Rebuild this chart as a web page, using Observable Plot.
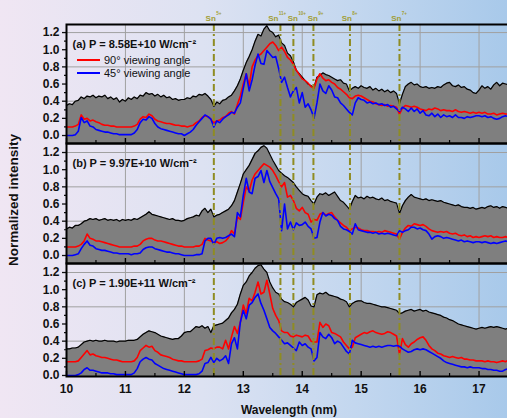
<!DOCTYPE html>
<html>
<head>
<meta charset="utf-8">
<script src="https://cdn.jsdelivr.net/npm/d3@7"></script>
<script src="https://cdn.jsdelivr.net/npm/@observablehq/plot@0.6"></script>
<style>
  html, body { margin: 0; padding: 0; }
  #wrap { position: relative; width: 507px; height: 418px; overflow: hidden;
    background: linear-gradient(to right, #f0e6f3 0%, #dde2f2 40%, #c3d7ef 70%, #a8c9ea 100%);
    font-family: "Liberation Sans", Arial, sans-serif; }
  #wrap svg { overflow: visible; max-width: none; display: block; }
  .pnl { position: absolute; left: 0; }
  #ylabel { position: absolute; left: 13px; top: 200px; transform: translate(-50%, -50%) rotate(-90deg);
    font-weight: bold; font-size: 13.5px; white-space: nowrap; color: #111; }
  #xlabel { position: absolute; left: 289px; top: 410px; transform: translate(-50%, -50%);
    font-weight: bold; font-size: 12px; white-space: nowrap; color: #111; }
  #legend { position: absolute; left: 77px; top: 53px; font-size: 11px; color: #111; }
  #legend .row { height: 13px; display: flex; align-items: center; }
  #legend .sw { width: 23px; height: 2px; margin-right: 4px; }
</style>
</head>
<body>
<div id="wrap">
  <div id="p1" class="pnl" style="top:0px"></div>
  <div id="p2" class="pnl" style="top:143px"></div>
  <div id="p3" class="pnl" style="top:263px"></div>
  <div id="legend"></div>
  <div id="ylabel">Normalized intensity</div>
  <div id="xlabel">Wavelength (nm)</div>
</div>
<script>
// ---- data ----
const WL = [10.00,10.05,10.10,10.15,10.20,10.25,10.30,10.35,10.40,10.45,
10.50,10.55,10.60,10.65,10.70,10.75,10.80,10.85,10.90,10.95,
11.00,11.05,11.10,11.15,11.20,11.25,11.30,11.35,11.40,11.45,
11.50,11.55,11.60,11.65,11.70,11.75,11.80,11.85,11.90,11.95,
12.00,12.05,12.10,12.15,12.20,12.25,12.30,12.35,12.40,12.45,
12.50,12.55,12.60,12.65,12.70,12.75,12.80,12.85,12.90,12.95,
13.00,13.05,13.10,13.15,13.20,13.25,13.30,13.35,13.40,13.45,
13.50,13.55,13.60,13.65,13.70,13.75,13.80,13.85,13.90,13.95,
14.00,14.05,14.10,14.15,14.20,14.25,14.30,14.35,14.40,14.45,
14.50,14.55,14.60,14.65,14.70,14.75,14.80,14.85,14.90,14.95,
15.00,15.05,15.10,15.15,15.20,15.25,15.30,15.35,15.40,15.45,
15.50,15.55,15.60,15.65,15.70,15.75,15.80,15.85,15.90,15.95,
16.00,16.05,16.10,16.15,16.20,16.25,16.30,16.35,16.40,16.45,
16.50,16.55,16.60,16.65,16.70,16.75,16.80,16.85,16.90,16.95,
17.00,17.05,17.10,17.15,17.20,17.25,17.30,17.35,17.40,17.45,
17.50];

// panel (a)
const A_ENV = [0.35,0.37,0.36,0.40,0.41,0.45,0.43,0.46,0.45,0.47,
0.44,0.46,0.45,0.47,0.43,0.45,0.42,0.44,0.39,0.42,
0.40,0.44,0.42,0.45,0.43,0.47,0.46,0.50,0.48,0.49,
0.46,0.48,0.45,0.47,0.44,0.45,0.42,0.43,0.41,0.42,
0.42,0.44,0.43,0.46,0.45,0.48,0.47,0.49,0.46,0.42,
0.34,0.39,0.37,0.41,0.42,0.45,0.47,0.52,0.58,0.66,
0.76,0.85,0.92,1.00,1.10,1.18,1.16,1.24,1.28,1.22,
1.20,1.15,1.17,1.08,1.05,0.96,0.93,0.86,0.76,0.72,
0.68,0.64,0.60,0.58,0.56,0.68,0.70,0.73,0.71,0.70,
0.68,0.66,0.64,0.65,0.61,0.60,0.52,0.55,0.57,0.55,
0.58,0.56,0.55,0.57,0.53,0.55,0.52,0.54,0.51,0.53,
0.50,0.52,0.49,0.37,0.48,0.57,0.60,0.62,0.59,0.60,
0.57,0.56,0.57,0.55,0.56,0.55,0.57,0.56,0.59,0.61,
0.62,0.58,0.57,0.59,0.56,0.57,0.54,0.53,0.50,0.49,
0.53,0.58,0.55,0.57,0.54,0.59,0.62,0.58,0.61,0.60,
0.59];
const A_RED = [0.10,0.10,0.10,0.11,0.13,0.24,0.19,0.20,0.17,0.18,
0.16,0.15,0.13,0.12,0.12,0.11,0.11,0.10,0.10,0.10,
0.10,0.10,0.10,0.11,0.13,0.19,0.22,0.21,0.25,0.23,
0.19,0.17,0.16,0.15,0.14,0.14,0.13,0.12,0.12,0.11,
0.11,0.10,0.11,0.12,0.15,0.17,0.21,0.23,0.22,0.19,
0.15,0.17,0.18,0.21,0.22,0.26,0.28,0.25,0.36,0.46,
0.60,0.72,0.58,0.80,0.88,0.93,0.95,0.99,1.03,1.07,
1.09,1.05,0.99,1.03,0.98,0.91,0.88,0.83,0.76,0.71,
0.66,0.64,0.61,0.57,0.55,0.66,0.72,0.67,0.64,0.65,
0.62,0.60,0.56,0.54,0.51,0.48,0.44,0.43,0.46,0.47,
0.46,0.44,0.42,0.40,0.39,0.37,0.36,0.35,0.36,0.34,
0.35,0.34,0.33,0.25,0.32,0.35,0.34,0.33,0.34,0.33,
0.31,0.30,0.29,0.31,0.30,0.32,0.31,0.29,0.30,0.29,
0.29,0.28,0.30,0.28,0.27,0.28,0.27,0.26,0.27,0.26,
0.27,0.26,0.27,0.25,0.25,0.26,0.24,0.25,0.26,0.25,
0.25];
const A_BLUE = [0.00,0.00,0.00,0.01,0.05,0.21,0.15,0.17,0.11,0.10,
0.07,0.06,0.05,0.04,0.04,0.03,0.02,0.02,0.01,0.01,
0.01,0.01,0.01,0.03,0.07,0.15,0.19,0.18,0.22,0.20,
0.14,0.10,0.08,0.07,0.06,0.05,0.04,0.03,0.02,0.02,
0.00,0.02,0.04,0.07,0.12,0.16,0.20,0.24,0.22,0.19,
0.10,0.17,0.15,0.19,0.22,0.24,0.27,0.26,0.33,0.38,
0.55,0.72,0.52,0.65,0.82,0.95,0.84,0.83,0.99,0.95,
0.91,0.92,0.78,0.62,0.68,0.56,0.45,0.52,0.56,0.38,
0.50,0.33,0.37,0.30,0.20,0.38,0.60,0.52,0.49,0.58,
0.53,0.45,0.44,0.38,0.35,0.31,0.27,0.24,0.38,0.44,
0.42,0.41,0.38,0.39,0.37,0.38,0.36,0.37,0.35,0.36,
0.33,0.34,0.31,0.28,0.33,0.31,0.28,0.32,0.28,0.31,
0.26,0.29,0.24,0.23,0.26,0.22,0.25,0.21,0.24,0.22,
0.23,0.21,0.24,0.21,0.21,0.20,0.22,0.21,0.22,0.23,
0.23,0.22,0.23,0.21,0.22,0.20,0.19,0.20,0.22,0.23,
0.22];

// panel (b)
const B_ENV = [0.31,0.33,0.32,0.35,0.35,0.37,0.40,0.41,0.43,0.42,
0.43,0.41,0.42,0.43,0.41,0.42,0.41,0.42,0.40,0.42,
0.41,0.42,0.41,0.43,0.42,0.44,0.46,0.48,0.51,0.48,
0.47,0.46,0.45,0.44,0.43,0.42,0.43,0.41,0.41,0.40,
0.41,0.43,0.44,0.45,0.47,0.46,0.52,0.55,0.50,0.54,
0.45,0.47,0.48,0.50,0.52,0.54,0.58,0.64,0.74,0.84,
0.95,1.00,1.05,1.12,1.19,1.22,1.26,1.28,1.25,1.18,
1.11,1.05,0.99,0.96,0.93,0.91,0.88,0.85,0.80,0.76,
0.72,0.70,0.69,0.64,0.60,0.68,0.72,0.71,0.73,0.70,
0.72,0.74,0.69,0.64,0.62,0.58,0.54,0.63,0.70,0.67,
0.68,0.66,0.69,0.67,0.68,0.66,0.65,0.67,0.64,0.65,
0.63,0.62,0.61,0.49,0.58,0.64,0.68,0.71,0.68,0.67,
0.66,0.65,0.66,0.64,0.65,0.64,0.63,0.64,0.62,0.61,
0.60,0.59,0.58,0.59,0.57,0.56,0.56,0.55,0.56,0.54,
0.55,0.56,0.55,0.57,0.58,0.56,0.57,0.55,0.57,0.56,
0.55];
const B_RED = [0.10,0.10,0.10,0.10,0.11,0.13,0.17,0.25,0.20,0.19,
0.17,0.17,0.16,0.15,0.14,0.13,0.12,0.11,0.10,0.10,
0.10,0.10,0.10,0.11,0.11,0.13,0.17,0.19,0.20,0.20,
0.18,0.17,0.17,0.16,0.15,0.14,0.13,0.12,0.11,0.11,
0.10,0.10,0.10,0.10,0.11,0.11,0.13,0.20,0.18,0.17,
0.15,0.16,0.14,0.15,0.17,0.21,0.29,0.25,0.45,0.42,
0.62,0.80,0.75,0.88,0.95,0.99,1.03,1.07,1.05,1.03,
0.99,0.93,0.86,0.80,0.85,0.68,0.70,0.64,0.55,0.52,
0.56,0.50,0.48,0.39,0.42,0.41,0.48,0.50,0.47,0.49,
0.50,0.45,0.41,0.38,0.35,0.33,0.29,0.31,0.33,0.32,
0.30,0.29,0.29,0.28,0.28,0.27,0.28,0.27,0.29,0.28,
0.27,0.26,0.25,0.19,0.27,0.32,0.35,0.34,0.37,0.36,
0.35,0.36,0.34,0.31,0.29,0.28,0.27,0.28,0.27,0.28,
0.26,0.25,0.26,0.24,0.23,0.24,0.22,0.23,0.21,0.22,
0.21,0.22,0.23,0.22,0.23,0.21,0.22,0.21,0.21,0.22,
0.21];
const B_BLUE = [0.00,0.00,0.00,0.01,0.02,0.08,0.13,0.17,0.12,0.11,
0.08,0.07,0.06,0.06,0.05,0.04,0.03,0.03,0.02,0.02,
0.02,0.02,0.01,0.02,0.02,0.03,0.07,0.09,0.10,0.10,
0.08,0.07,0.06,0.05,0.04,0.04,0.03,0.02,0.02,0.01,
0.00,0.00,0.00,0.00,0.01,0.01,0.02,0.17,0.20,0.20,
0.13,0.20,0.21,0.20,0.21,0.23,0.25,0.22,0.50,0.45,
0.70,0.90,0.74,0.72,0.90,0.92,0.99,0.85,0.99,0.86,
0.79,0.72,0.66,0.29,0.60,0.31,0.39,0.30,0.38,0.35,
0.36,0.39,0.34,0.31,0.20,0.21,0.39,0.50,0.46,0.48,
0.47,0.43,0.41,0.34,0.31,0.30,0.28,0.25,0.37,0.30,
0.29,0.28,0.27,0.27,0.26,0.27,0.25,0.26,0.25,0.26,
0.25,0.24,0.23,0.29,0.27,0.29,0.30,0.33,0.33,0.31,
0.32,0.30,0.29,0.25,0.19,0.22,0.23,0.22,0.20,0.21,
0.20,0.19,0.18,0.17,0.18,0.16,0.17,0.16,0.15,0.16,
0.16,0.15,0.16,0.15,0.14,0.15,0.14,0.15,0.16,0.17,
0.16];

// panel (c)
const C_ENV = [0.31,0.31,0.32,0.32,0.33,0.36,0.39,0.40,0.41,0.40,
0.41,0.40,0.40,0.41,0.40,0.40,0.40,0.39,0.40,0.40,
0.40,0.41,0.41,0.41,0.42,0.45,0.48,0.50,0.52,0.51,
0.50,0.48,0.46,0.45,0.44,0.43,0.42,0.43,0.43,0.46,
0.50,0.51,0.51,0.54,0.57,0.56,0.58,0.55,0.57,0.50,
0.58,0.59,0.60,0.61,0.64,0.67,0.73,0.77,0.83,0.95,
1.05,1.09,1.16,1.20,1.25,1.28,1.29,1.24,1.20,1.09,
1.02,0.97,0.95,0.89,0.86,0.85,0.83,0.80,0.85,0.87,
0.89,0.91,0.88,0.81,0.80,0.94,0.96,0.95,0.97,0.94,
0.93,0.92,0.91,0.89,0.88,0.86,0.80,0.84,0.86,0.87,
0.87,0.85,0.84,0.84,0.83,0.82,0.81,0.80,0.80,0.79,
0.78,0.77,0.76,0.72,0.73,0.75,0.76,0.77,0.75,0.76,
0.77,0.75,0.76,0.74,0.73,0.72,0.71,0.70,0.68,0.67,
0.65,0.64,0.62,0.60,0.59,0.58,0.57,0.56,0.55,0.54,
0.55,0.56,0.55,0.56,0.57,0.56,0.57,0.56,0.55,0.54,
0.55];
const C_RED = [0.16,0.16,0.16,0.16,0.17,0.21,0.25,0.29,0.24,0.25,
0.23,0.22,0.21,0.21,0.20,0.19,0.18,0.18,0.17,0.16,
0.16,0.16,0.16,0.17,0.21,0.29,0.32,0.35,0.33,0.34,
0.29,0.27,0.24,0.23,0.22,0.21,0.19,0.18,0.17,0.17,
0.16,0.16,0.16,0.16,0.16,0.17,0.19,0.29,0.30,0.32,
0.31,0.33,0.33,0.31,0.41,0.31,0.45,0.57,0.49,0.62,
0.82,0.72,0.90,0.87,0.97,1.09,0.95,0.97,1.11,0.95,
0.78,0.70,0.64,0.52,0.50,0.50,0.46,0.45,0.47,0.46,
0.45,0.47,0.46,0.40,0.39,0.39,0.62,0.56,0.60,0.58,
0.50,0.49,0.47,0.45,0.39,0.35,0.31,0.33,0.44,0.46,
0.48,0.50,0.49,0.51,0.52,0.50,0.49,0.48,0.49,0.51,
0.50,0.48,0.46,0.25,0.43,0.36,0.33,0.37,0.39,0.42,
0.44,0.45,0.41,0.35,0.31,0.29,0.26,0.25,0.23,0.22,
0.21,0.22,0.21,0.20,0.21,0.19,0.19,0.18,0.18,0.17,
0.17,0.17,0.16,0.17,0.16,0.16,0.15,0.16,0.17,0.16,
0.18];
const C_BLUE = [0.00,0.00,0.00,0.00,0.01,0.03,0.07,0.09,0.06,0.06,
0.05,0.04,0.03,0.03,0.03,0.02,0.02,0.01,0.01,0.01,
0.01,0.01,0.01,0.03,0.08,0.16,0.19,0.21,0.19,0.18,
0.14,0.12,0.10,0.08,0.07,0.06,0.05,0.04,0.03,0.02,
0.01,0.01,0.01,0.01,0.01,0.02,0.05,0.14,0.15,0.21,
0.15,0.20,0.17,0.19,0.23,0.14,0.37,0.44,0.31,0.62,
0.76,0.66,0.82,0.85,0.91,0.95,0.84,0.76,0.66,0.56,
0.52,0.49,0.45,0.41,0.37,0.38,0.35,0.32,0.29,0.39,
0.35,0.37,0.33,0.31,0.17,0.21,0.50,0.45,0.43,0.48,
0.44,0.37,0.40,0.38,0.33,0.28,0.25,0.41,0.38,0.37,
0.36,0.35,0.34,0.33,0.34,0.33,0.34,0.33,0.34,0.35,
0.35,0.34,0.35,0.34,0.31,0.29,0.27,0.28,0.30,0.31,
0.30,0.31,0.30,0.28,0.26,0.24,0.22,0.20,0.17,0.15,
0.14,0.13,0.12,0.11,0.10,0.10,0.09,0.10,0.09,0.09,
0.09,0.08,0.08,0.07,0.07,0.06,0.06,0.05,0.05,0.07,
0.08];

const SN_POS = [12.50, 13.63, 13.85, 14.19, 14.81, 15.65];
const SN_ELEMENT = "Sn";
const SN_CHARGE = ["5+", "11+", "10+", "9+", "8+", "7+"];
const PANEL_LABELS = ["(a) P = 8.58E+10 W/cm\u207B\u00B2", "(b) P = 9.97E+10 W/cm\u207B\u00B2", "(c) P = 1.90E+11 W/cm\u207B\u00B2"];
const LEGEND_LABELS = ["90\u00B0 viewing angle", "45\u00B0 viewing angle"];
const LEGEND_COLORS = ["#ff0000", "#0000ff"];
const Y_TICKS = [0, 0.2, 0.4, 0.6, 0.8, 1.0, 1.2];
const Y_MINOR = [0.1, 0.3, 0.5, 0.7, 0.9, 1.1];
const Y_GRID = [0.4, 0.8, 1.2];
const X_TICKS = [10, 11, 12, 13, 14, 15, 16, 17];
const X_MINOR = [10.5, 11.5, 12.5, 13.5, 14.5, 15.5, 16.5, 17.5];
const X_GRID = [11, 12, 13, 14, 15, 16, 17];

const FONT = "'Liberation Sans', Arial, sans-serif";
// pixel nudges that keep the crowded ion labels apart (style only)
const SN_NUDGE_PX = [0, -4, 2.5, 2.5, 0, 0];

function panel(cfg) {
  const {env, red, blue, label, height, marginTop, marginBottom, yDomain, showSn, showX} = cfg;
  const data = WL.map((w, i) => ({w, env: env[i], red: red[i], blue: blue[i]}));
  const plotH = height - marginTop - marginBottom;
  const marks = [
    Plot.ruleX(X_GRID, {x: d => d, stroke: "#a0a0a0", strokeWidth: 1}),
    Plot.ruleY(Y_GRID, {y: d => d, stroke: "#a0a0a0", strokeWidth: 1}),
    Plot.areaY(data, {x: "w", y1: yDomain[0], y2: "env", fill: "#7f7f7f"}),
    Plot.lineY(data, {x: "w", y: "env", stroke: "#000", strokeWidth: 1.2}),
    Plot.lineY(data, {x: "w", y: "red", stroke: "#ff0000", strokeWidth: 1.6}),
    Plot.lineY(data, {x: "w", y: "blue", stroke: "#0000ff", strokeWidth: 1.6}),
    Plot.ruleX(SN_POS, {x: d => d, stroke: "#8f8c22", strokeWidth: 2, strokeDasharray: "7,3,2,3"}),
    Plot.tickX(X_TICKS, {x: d => d, insetTop: plotH - 5, stroke: "#000", strokeWidth: 1.4}),
    Plot.tickX(X_MINOR, {x: d => d, insetTop: plotH - 3, stroke: "#000", strokeWidth: 1.2}),
    Plot.axisY(Y_TICKS, {tickSize: 4, tickPadding: 3, tickFormat: d => d.toFixed(1), label: null,
      fontSize: 12, fontWeight: "bold", strokeWidth: 1.3}),
    Plot.axisY(Y_MINOR, {tickSize: 2, tickFormat: () => "", label: null, strokeWidth: 1.2}),
    Plot.text([label], {text: d => d, frameAnchor: "top-left", dx: 6, dy: 15.5, textAnchor: "start",
      fontSize: 11, fontWeight: "bold", fill: "#111"}),
    Plot.frame({stroke: "#000", strokeWidth: 2})
  ];
  if (showSn) {
    SN_POS.forEach((pos, i) => {
      marks.push(Plot.text([pos], {x: d => d, text: () => SN_ELEMENT, frameAnchor: "top", dy: -9,
        dx: SN_NUDGE_PX[i] + 2, textAnchor: "end", fill: "#a19d36", fontSize: 8, fontWeight: "bold"}));
      marks.push(Plot.text([pos], {x: d => d, text: () => SN_CHARGE[i], frameAnchor: "top", dy: -12.5,
        dx: SN_NUDGE_PX[i] + 2.3, textAnchor: "start", fill: "#a19d36", fontSize: 4.6, fontWeight: "bold"}));
    });
  }
  if (showX) {
    marks.push(Plot.axisX(X_TICKS, {tickSize: 0, tickPadding: 8, tickFormat: d => String(d), label: null,
      fontSize: 12, fontWeight: "bold"}));
  }
  return Plot.plot({
    width: 508, height, marginLeft: 66, marginRight: 0, marginTop, marginBottom,
    x: {domain: [10, 17.5], label: null, ...(showX ? {} : {axis: null})},
    y: {domain: yDomain, label: null},
    style: {background: "transparent", fontFamily: FONT, color: "#111", overflow: "visible"},
    marks
  });
}

document.getElementById("p1").append(panel({env: A_ENV, red: A_RED, blue: A_BLUE, label: PANEL_LABELS[0],
  height: 143, marginTop: 24, marginBottom: 0, yDomain: [-0.093, 1.294], showSn: true, showX: false}));
document.getElementById("p2").append(panel({env: B_ENV, red: B_RED, blue: B_BLUE, label: PANEL_LABELS[1],
  height: 120, marginTop: 0, marginBottom: 0, yDomain: [-0.093, 1.305], showSn: false, showX: false}));
document.getElementById("p3").append(panel({env: C_ENV, red: C_RED, blue: C_BLUE, label: PANEL_LABELS[2],
  height: 155, marginTop: 0, marginBottom: 42, yDomain: [-0.012, 1.305], showSn: false, showX: true}));

const leg = document.getElementById("legend");
LEGEND_LABELS.forEach((t, i) => {
  const row = document.createElement("div");
  row.className = "row";
  const sw = document.createElement("span");
  sw.className = "sw";
  sw.style.background = LEGEND_COLORS[i];
  const tx = document.createElement("span");
  tx.textContent = t;
  row.append(sw, tx);
  leg.append(row);
});
</script>
</body>
</html>
